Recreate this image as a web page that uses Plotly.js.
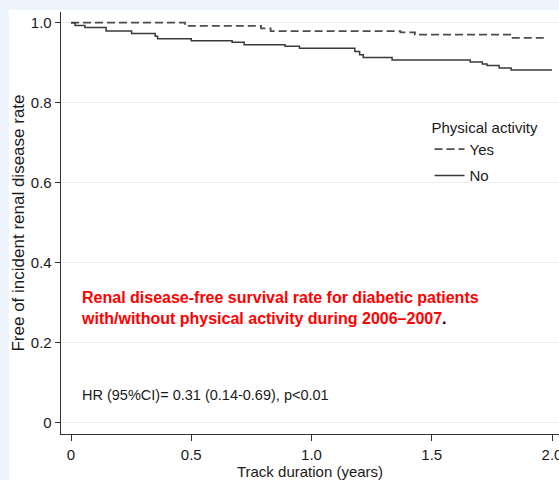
<!DOCTYPE html>
<html>
<head>
<meta charset="utf-8">
<script src="https://cdn.plot.ly/plotly-3.0.1.min.js"></script>
<style>
  html, body { margin: 0; padding: 0; background: #eef5fc; width: 559px; height: 480px; overflow: hidden; }
  #chart { position: absolute; left: 9px; top: 10px; width: 550px; height: 470px; background: #ffffff; overflow: hidden; }
</style>
</head>
<body>
<div id="chart"></div>
<script>
// Kaplan-Meier step data
const timeYes = [0, 0.474, 0.79, 0.83, 1.37, 1.43, 1.83, 1.975];
const survYes = [1.0, 0.992, 0.986, 0.979, 0.976, 0.970, 0.962, 0.962];

const timeNo = [0, 0.017, 0.058, 0.146, 0.252, 0.35, 0.36, 0.50, 0.67, 0.72, 0.89, 0.95, 1.18, 1.20, 1.215, 1.335, 1.66, 1.71, 1.73, 1.78, 1.83, 2.0];
const survNo = [1.0, 0.993, 0.988, 0.979, 0.973, 0.966, 0.960, 0.955, 0.951, 0.945, 0.941, 0.936, 0.928, 0.920, 0.913, 0.907, 0.902, 0.897, 0.893, 0.887, 0.882, 0.882];

const seriesNames = ["Yes", "No"];
const legendTitle = "Physical activity";

const xTickVals = [0, 0.5, 1.0, 1.5, 2.0];
const xTickText = ["0", "0.5", "1.0", "1.5", "2.0"];
const yTickVals = [0, 0.2, 0.4, 0.6, 0.8, 1.0];
const yTickText = ["0", "0.2", "0.4", "0.6", "0.8", "1.0"];

const xTitle = "Track duration (years)";
const yTitle = "Free of incident renal disease rate";
const noteLine1 = "Renal disease-free survival rate for diabetic patients";
const noteLine2 = "with/without physical activity during 2006\u20132007";
const hrText = "HR (95%CI)= 0.31 (0.14-0.69), p<0.01";

const regular = '"Liberation Sans", Arial, sans-serif';
const textColor = "#1a1a1a";

const traces = [
  {
    x: timeYes, y: survYes, name: seriesNames[0], type: "scatter", mode: "lines",
    legendgroup: "g1",
    line: { shape: "hv", color: "#4d4d4d", width: 1.8, dash: "8px,4px" }
  },
  {
    x: timeNo, y: survNo, name: seriesNames[1], type: "scatter", mode: "lines",
    legendgroup: "g2",
    line: { shape: "hv", color: "#3a3a3a", width: 1.5 }
  }
];

const layout = {
  width: 550, height: 470,
  margin: { l: 52, r: 0, t: 2, b: 46, pad: 0 },
  paper_bgcolor: "#ffffff",
  plot_bgcolor: "#ffffff",
  showlegend: true,
  font: { family: regular, size: 15, color: textColor },
  xaxis: {
    range: [-0.0416, 2.029],
    tickvals: xTickVals, ticktext: xTickText,
    ticks: "outside", ticklen: 6, tickwidth: 1, tickcolor: "#333",
    ticklabelstandoff: 1,
    ticklabeloverflow: "allow",
    showline: true, linecolor: "#333", linewidth: 1.3,
    showgrid: false, zeroline: false,
    tickfont: { family: regular, size: 15, color: textColor },
    title: { text: xTitle, font: { family: regular, size: 15, color: textColor }, standoff: 8 }
  },
  yaxis: {
    range: [-0.0275, 1.0267],
    tickvals: yTickVals, ticktext: yTickText,
    ticks: "outside", ticklen: 5, tickwidth: 1, tickcolor: "#333",
    showline: true, linecolor: "#333", linewidth: 1.3,
    showgrid: true, gridcolor: "#ededed", gridwidth: 1,
    zeroline: false,
    tickfont: { family: regular, size: 15, color: textColor },
    title: { text: yTitle, font: { family: regular, size: 17, color: textColor }, standoff: 3 }
  },
  legend: {
    x: 0.74, y: 0.76, xanchor: "left", yanchor: "top",
    bgcolor: "rgba(255,255,255,0)", borderwidth: 0,
    traceorder: "grouped",
    font: { family: regular, size: 15, color: textColor },
    title: { text: legendTitle, font: { family: regular, size: 15, color: textColor } },
    tracegroupgap: 4
  },
  annotations: [
    {
      xref: "paper", yref: "paper", x: 0.036, y: 0.299, xanchor: "left", yanchor: "middle",
      align: "left", showarrow: false,
      text: "<b><span style='color:#ff0000'>" + noteLine1 + "<br>" + noteLine2 + "</span>.</b>",
      font: { family: regular, size: 16, color: "#000000" }
    },
    {
      xref: "paper", yref: "paper", x: 0.038, y: 0.092, xanchor: "left", yanchor: "middle",
      align: "left", showarrow: false,
      text: hrText,
      font: { family: regular, size: 14.5, color: textColor }
    }
  ]
};

Plotly.newPlot("chart", traces, layout, { displayModeBar: false, staticPlot: true });
</script>
</body>
</html>
